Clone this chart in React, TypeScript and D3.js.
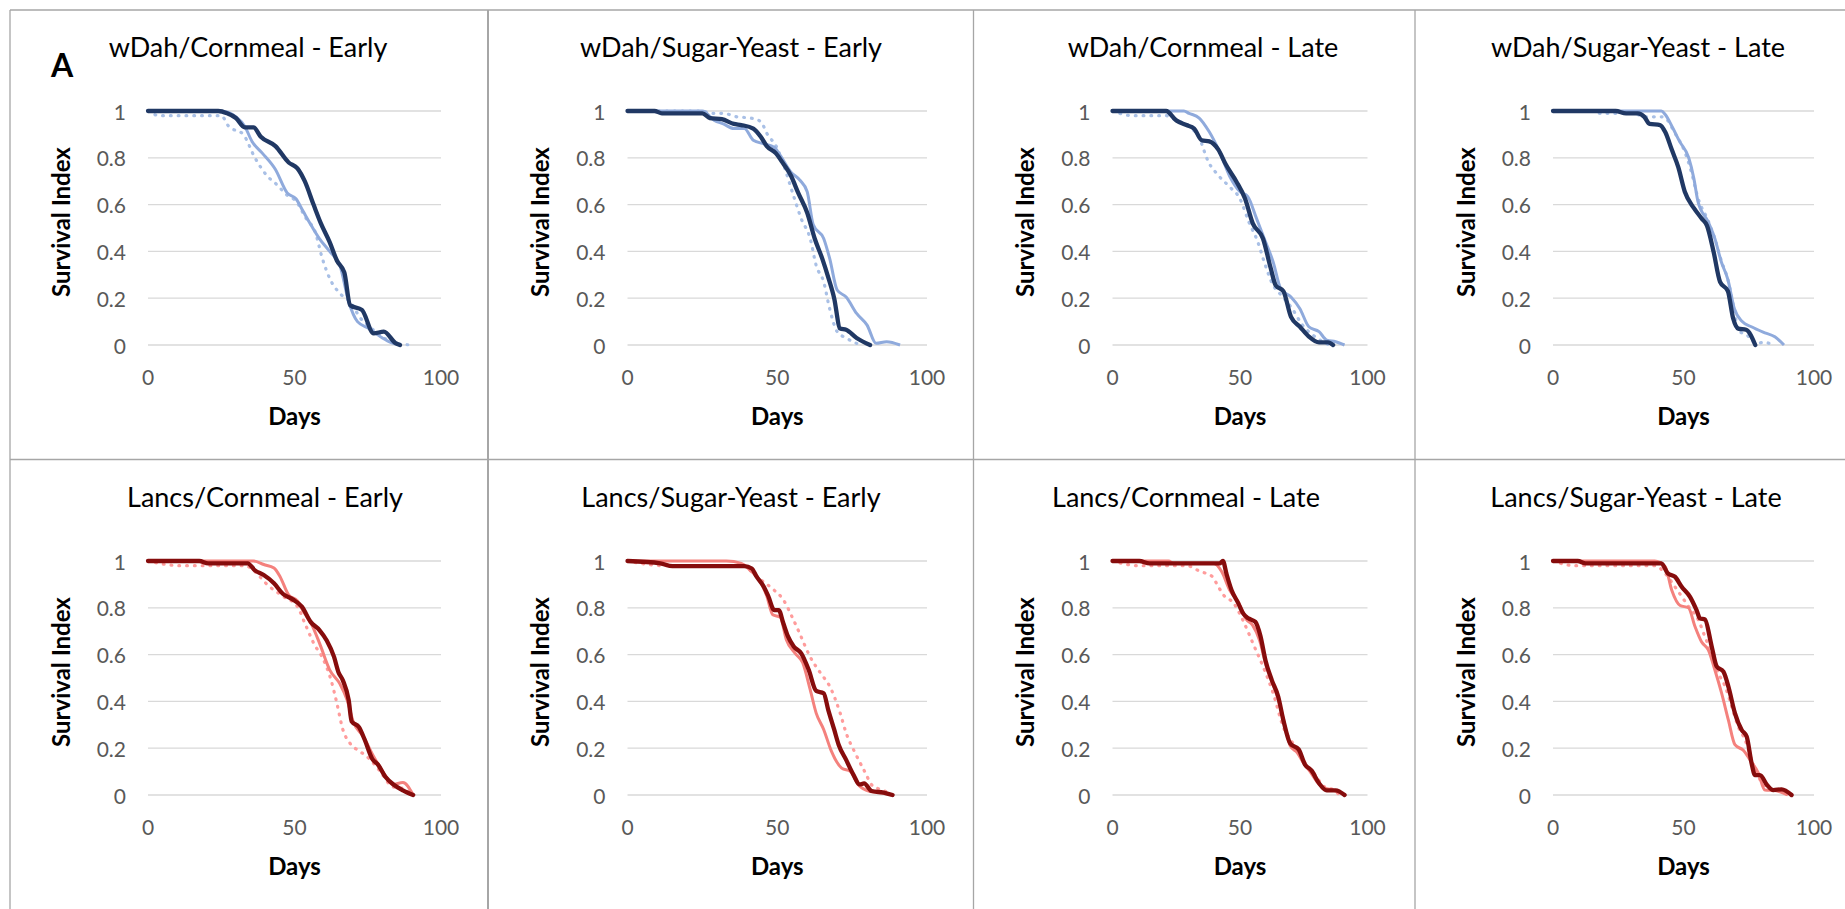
import React from "react";
import * as d3 from "d3";

type Pt = [number, number];

// ---------- tick labels / titles ----------
const xTicks = [0, 50, 100];
const yTicks = [0, 0.2, 0.4, 0.6, 0.8, 1];
const xLabel = "Days";
const yLabel = "Survival Index";
const panelTitles = [
  "wDah/Cornmeal - Early",
  "wDah/Sugar-Yeast - Early",
  "wDah/Cornmeal - Late",
  "wDah/Sugar-Yeast - Late",
  "Lancs/Cornmeal - Early",
  "Lancs/Sugar-Yeast - Early",
  "Lancs/Cornmeal - Late",
  "Lancs/Sugar-Yeast - Late",
];

// ---------- data: [day, survival index] ----------
const wDahCornEarlyDotted: Pt[] = [[0,1],[4,0.98],[25,0.98],[27.5,0.935],[32.5,0.9],[36.5,0.8],[40.5,0.725],[44,0.685],[47.5,0.64],[50.5,0.615],[54,0.54],[57,0.485],[59.5,0.37],[62,0.285],[65.5,0.22],[69,0.185],[72.5,0.115],[75.5,0.08],[80,0.035],[84.5,0.006],[90.5,0]];
const wDahCornEarlyLight: Pt[] = [[0,1],[25,1],[30,0.975],[33,0.935],[35.5,0.87],[39,0.82],[43.5,0.75],[47.5,0.65],[50.5,0.625],[53,0.57],[56,0.505],[58.5,0.455],[62,0.4],[65.5,0.34],[68.5,0.185],[71.5,0.1],[75.5,0.07],[80,0.03],[83,0.01],[86,0]];
const wDahCornEarlyDark: Pt[] = [[0,1],[24,1],[27,0.99],[30,0.97],[33,0.93],[36,0.93],[38.5,0.89],[43.5,0.85],[48,0.78],[51,0.755],[53.5,0.7],[56.5,0.6],[59,0.52],[62,0.44],[64.5,0.36],[67,0.31],[69,0.17],[73,0.15],[77,0.05],[80.5,0.057],[84.5,0.008],[86,0]];

const wDahSYEarlyDotted: Pt[] = [[0,1],[25,1],[28,0.99],[32,0.99],[36.5,0.975],[41,0.97],[44.5,0.955],[46.5,0.905],[50,0.84],[52.5,0.755],[55.5,0.635],[58,0.54],[61,0.455],[63,0.34],[65.5,0.27],[67.5,0.155],[70,0.057],[73,0.03],[76.5,0.007],[78,0]];
const wDahSYEarlyLight: Pt[] = [[0,1],[25,1],[29,0.96],[32,0.945],[35.5,0.925],[39,0.925],[42,0.875],[45.5,0.86],[49,0.845],[51,0.81],[54.5,0.74],[57.5,0.705],[60,0.655],[62,0.515],[65.5,0.455],[67.5,0.37],[70,0.235],[73,0.205],[76.5,0.135],[80,0.085],[83,0.007],[86.5,0.014],[91,0]];
const wDahSYEarlyDark: Pt[] = [[0,1],[9,1],[11.5,0.99],[25,0.99],[27.5,0.97],[31.5,0.965],[35.5,0.945],[38,0.94],[42,0.925],[44.5,0.89],[46.5,0.85],[49.5,0.82],[52,0.775],[54.5,0.725],[57,0.65],[60,0.565],[62.5,0.455],[65,0.37],[67,0.29],[69,0.2],[71,0.07],[73,0.065],[76.5,0.03],[81,0]];

const wDahCornLateDotted: Pt[] = [[0,1],[8,0.98],[21,0.98],[25,0.96],[30,0.935],[34,0.885],[37.5,0.785],[41.5,0.725],[46,0.675],[50,0.625],[53.5,0.525],[57,0.44],[59.5,0.355],[63,0.255],[66,0.215],[70.5,0.155],[74.5,0.085],[78.5,0.043],[82.5,0.014],[85,0]];
const wDahCornLateLight: Pt[] = [[0,1],[28,1],[30,0.99],[34,0.97],[38,0.91],[42,0.825],[46,0.72],[50,0.655],[53,0.635],[56.5,0.54],[59.5,0.455],[63,0.355],[66,0.24],[70,0.205],[73.5,0.155],[77,0.078],[81,0.057],[84,0.021],[87.5,0.014],[91,0]];
const wDahCornLateDark: Pt[] = [[0,1],[21,1],[25,0.96],[29,0.94],[32,0.925],[35,0.875],[38,0.87],[41.5,0.835],[44.5,0.77],[48.5,0.7],[52,0.625],[55,0.52],[59,0.455],[62,0.33],[64,0.255],[67,0.23],[70,0.12],[73.5,0.078],[77,0.036],[81,0.011],[84.5,0.011],[86.5,0]];

const wDahSYLateDotted: Pt[] = [[0,1],[16,1],[18,0.99],[24,0.99],[30,0.99],[36,0.975],[41.5,0.975],[43,0.97],[46.5,0.91],[50.5,0.825],[53,0.74],[55.5,0.63],[59.5,0.53],[62,0.455],[64.5,0.36],[67,0.28],[69.5,0.145],[71,0.06],[74,0.045],[78,0.007],[81,0.012],[84,0]];
const wDahSYLateLight: Pt[] = [[0,1],[41.5,1],[43,0.985],[46,0.925],[48.5,0.87],[52,0.8],[54,0.71],[55.5,0.615],[59.5,0.525],[62,0.455],[64.5,0.355],[67,0.28],[69.5,0.155],[72.5,0.1],[76,0.078],[80.5,0.055],[85,0.035],[88.5,0]];
const wDahSYLateDark: Pt[] = [[0,1],[24,1],[28,0.99],[32.5,0.99],[35,0.975],[37,0.945],[41,0.94],[43,0.91],[45.5,0.835],[48,0.76],[50.5,0.655],[54,0.585],[57,0.54],[59,0.51],[61.5,0.4],[64,0.27],[67,0.23],[69,0.115],[71,0.07],[74,0.065],[77.5,0]];

const lancsCornEarlyDotted: Pt[] = [[0,1],[11,0.98],[33.5,0.98],[35,0.97],[41.5,0.89],[46,0.85],[51,0.805],[53.5,0.735],[56.5,0.65],[60,0.575],[62.5,0.49],[64.5,0.39],[66.5,0.28],[69,0.22],[72.5,0.185],[75.5,0.155],[79,0.105],[83.5,0.035],[87,0.028],[90,0]];
const lancsCornEarlyLight: Pt[] = [[0,1],[36,1],[39.5,0.985],[43,0.97],[45,0.935],[48,0.855],[51,0.83],[53,0.785],[56,0.725],[58.5,0.65],[62,0.535],[65.5,0.475],[68,0.405],[70,0.315],[73.5,0.25],[77,0.165],[80.5,0.093],[83.5,0.045],[87,0.053],[90.5,0]];
const lancsCornEarlyDark: Pt[] = [[0,1],[17.5,1],[20.5,0.99],[34,0.99],[36.5,0.96],[39.5,0.94],[43,0.905],[46,0.86],[49.5,0.835],[52.5,0.805],[55.5,0.74],[58.5,0.705],[61,0.66],[63.5,0.59],[65,0.525],[66.5,0.49],[68.5,0.405],[69.5,0.315],[72,0.29],[74,0.235],[76.5,0.155],[78.5,0.13],[81,0.078],[84,0.043],[87,0.02],[90.5,0]];

const lancsSYEarlyDotted: Pt[] = [[0,1],[7,0.985],[12,0.98],[39,0.98],[40,0.97],[44.5,0.92],[49,0.875],[52,0.835],[55,0.76],[57.5,0.69],[61,0.59],[64.5,0.52],[67.5,0.465],[71,0.35],[73,0.265],[76,0.18],[79,0.105],[82,0.037],[85.5,0.02],[88,0]];
const lancsSYEarlyLight: Pt[] = [[0,1],[33,1],[38,0.99],[41,0.96],[44,0.92],[46.5,0.85],[48.5,0.77],[51,0.76],[53,0.665],[56,0.605],[58.5,0.565],[61,0.45],[63,0.35],[65.5,0.28],[68,0.19],[71.5,0.115],[74.5,0.1],[77,0.045],[81,0.015],[86.5,0.007],[88,0]];
const lancsSYEarlyDark: Pt[] = [[0,1],[11,0.99],[15,0.978],[39,0.978],[41.5,0.968],[43,0.935],[45.5,0.89],[47,0.85],[49,0.79],[50.5,0.79],[52,0.735],[53.5,0.68],[55.5,0.635],[58,0.605],[60.5,0.535],[63,0.445],[65.5,0.435],[67,0.365],[69,0.28],[70.5,0.215],[73,0.15],[75.5,0.085],[77.5,0.045],[79,0.05],[81.5,0.017],[85.5,0.01],[88.5,0]];

const lancsCornLateDotted: Pt[] = [[0,1],[10.5,0.98],[29,0.98],[34.5,0.955],[39,0.935],[41.5,0.89],[43.5,0.855],[47.5,0.82],[51,0.75],[55,0.65],[59,0.55],[63,0.435],[67,0.29],[70.8,0.22],[74.7,0.15],[79,0.093],[83,0.036],[87,0.02],[89,0]];
const lancsCornLateLight: Pt[] = [[0,1],[22,1],[24,0.99],[39.5,0.99],[42.8,0.955],[46,0.875],[49.3,0.825],[52.5,0.75],[55,0.725],[57.7,0.66],[60.3,0.55],[63,0.47],[65.5,0.39],[67.5,0.3],[69.7,0.21],[72.5,0.18],[75,0.135],[77.5,0.1],[80.2,0.057],[83,0.03],[85.5,0.024],[91,0]];
const lancsCornLateDark: Pt[] = [[0,1],[10.5,1],[14.5,0.99],[42,0.99],[43.3,1],[44.7,0.945],[46.7,0.875],[49.3,0.82],[51.3,0.775],[53.3,0.755],[56,0.74],[58,0.68],[60,0.575],[62.5,0.49],[65,0.42],[67,0.32],[69.7,0.22],[73,0.195],[75.5,0.13],[78,0.105],[81,0.05],[84,0.02],[87.5,0.02],[91,0]];

const lancsSYLateDotted: Pt[] = [[0,1],[8.5,0.98],[39,0.98],[43,0.947],[46.7,0.89],[52,0.805],[55.7,0.748],[58.2,0.677],[60.8,0.605],[63.4,0.52],[66,0.463],[68.5,0.377],[71,0.292],[73.6,0.235],[76.1,0.15],[78.7,0.078],[82.5,0.028],[87.6,0.014],[90,0]];
const lancsSYLateLight: Pt[] = [[0,1],[39,1],[43,0.975],[45.5,0.875],[48.7,0.81],[51.9,0.8],[54.4,0.72],[56.9,0.655],[59.5,0.62],[62,0.535],[64.6,0.435],[67.2,0.32],[69.7,0.215],[73,0.19],[75.5,0.15],[78.7,0.093],[81.2,0.021],[85,0.019],[89,0.005],[90,0]];
const lancsSYLateDark: Pt[] = [[0,1],[9.5,1],[12.5,0.99],[41.5,0.99],[44,0.947],[46.7,0.933],[49.3,0.89],[52.5,0.847],[55,0.79],[56.3,0.755],[58.2,0.75],[60.8,0.635],[62.7,0.55],[65.3,0.527],[67.2,0.463],[69.7,0.35],[72.3,0.278],[74.2,0.25],[76.1,0.135],[77.4,0.085],[79.3,0.085],[82,0.043],[84.4,0.021],[87.6,0.024],[91.4,0]];

const panelData: { dotted: Pt[]; light: Pt[]; dark: Pt[] }[] = [
  { dotted: wDahCornEarlyDotted, light: wDahCornEarlyLight, dark: wDahCornEarlyDark },
  { dotted: wDahSYEarlyDotted, light: wDahSYEarlyLight, dark: wDahSYEarlyDark },
  { dotted: wDahCornLateDotted, light: wDahCornLateLight, dark: wDahCornLateDark },
  { dotted: wDahSYLateDotted, light: wDahSYLateLight, dark: wDahSYLateDark },
  { dotted: lancsCornEarlyDotted, light: lancsCornEarlyLight, dark: lancsCornEarlyDark },
  { dotted: lancsSYEarlyDotted, light: lancsSYEarlyLight, dark: lancsSYEarlyDark },
  { dotted: lancsCornLateDotted, light: lancsCornLateLight, dark: lancsCornLateDark },
  { dotted: lancsSYLateDotted, light: lancsSYLateLight, dark: lancsSYLateDark },
];

// ---------- layout & style ----------
const W = 1845;
const H = 909;
const colPlots = [
  [148, 441],
  [627.5, 927],
  [1112.5, 1367.5],
  [1553, 1814],
];
const rowPlots = [
  [111, 345],
  [561, 795],
];
const titleCenters = [248, 731, 1203, 1638, 265, 731, 1186, 1636];
const colBorders = [488, 973.5, 1415];
const rowBorder = 459.5;

const palettes = [
  { dark: "#203864", light: "#8FAADC", dotted: "#A9C0E6" },
  { dark: "#860C0C", light: "#F4817D", dotted: "#FF9C9C" },
];

const FONT = "Lato, 'Open Sans', sans-serif";

function Panel({ idx }: { idx: number }) {
  const col = idx % 4;
  const row = Math.floor(idx / 4);
  const [x0, x1] = colPlots[col];
  const [y0, y1] = rowPlots[row];
  const x = d3.scaleLinear().domain([0, 100]).range([x0, x1]);
  const y = d3.scaleLinear().domain([0, 1]).range([y1, y0]);
  const line = d3
    .line<Pt>()
    .x((d) => x(d[0]))
    .y((d) => y(d[1]))
    .curve(d3.curveMonotoneX);
  const pal = palettes[row];
  const data = panelData[idx];
  const fmt = (v: number) => (v === 0 || v === 1 ? String(v) : d3.format(".1f")(v));
  const cy = (y0 + y1) / 2;
  return (
    <g>
      <text
        x={titleCenters[idx]}
        y={y0 - 54}
        textAnchor="middle"
        fontFamily={FONT}
        fontSize={27}
        fill="#000"
      >
        {panelTitles[idx]}
      </text>
      {yTicks.map((t) => (
        <line key={"g" + t} x1={x0} x2={x1} y1={y(t)} y2={y(t)} stroke="#D9D9D9" strokeWidth={1.3} />
      ))}
      {yTicks.map((t) => (
        <text
          key={"yt" + t}
          x={x0 - 22}
          y={y(t)}
          textAnchor="end"
          dominantBaseline="central"
          fontFamily={FONT}
          fontSize={21}
          fill="#595959"
        >
          {fmt(t)}
        </text>
      ))}
      {xTicks.map((t) => (
        <text
          key={"xt" + t}
          x={x(t)}
          y={y1 + 31}
          textAnchor="middle"
          dominantBaseline="central"
          fontFamily={FONT}
          fontSize={21}
          fill="#595959"
        >
          {t}
        </text>
      ))}
      <text
        x={(x0 + x1) / 2}
        y={y1 + 70}
        textAnchor="middle"
        dominantBaseline="central"
        fontFamily={FONT}
        fontWeight="bold"
        fontSize={24}
        fill="#000"
      >
        {xLabel}
      </text>
      <text
        transform={`translate(${x0 - 88},${cy - 6}) rotate(-90)`}
        textAnchor="middle"
        dominantBaseline="central"
        fontFamily={FONT}
        fontWeight="bold"
        fontSize={24}
        fill="#000"
      >
        {yLabel}
      </text>
      <path
        d={line(data.dotted) || ""}
        fill="none"
        stroke={pal.dotted}
        strokeWidth={3.2}
        strokeDasharray="0.8 7"
        strokeLinecap="round"
      />
      <path d={line(data.light) || ""} fill="none" stroke={pal.light} strokeWidth={3} strokeLinejoin="round" />
      <path d={line(data.dark) || ""} fill="none" stroke={pal.dark} strokeWidth={4.3} strokeLinejoin="round" strokeLinecap="round" />
    </g>
  );
}

export default function App() {
  return (
    <div style={{ position: "absolute", left: 0, top: 0 }}>
      <svg width={W} height={H} style={{ display: "block", background: "#fff" }}>
        <rect x={0} y={0} width={W} height={H} fill="#fff" />
        {/* panel borders */}
        <line x1={10} x2={W} y1={10} y2={10} stroke="#A6A6A6" strokeWidth={1.3} />
        <line x1={10} x2={10} y1={10} y2={H} stroke="#A6A6A6" strokeWidth={1.3} />
        <line x1={10} x2={W} y1={rowBorder} y2={rowBorder} stroke="#A6A6A6" strokeWidth={1.3} />
        {colBorders.map((cx, i) => (
          <line key={i} x1={cx} x2={cx} y1={10} y2={H} stroke="#A6A6A6" strokeWidth={i === 0 ? 2 : 1.3} />
        ))}
        {panelTitles.map((_, i) => (
          <Panel key={i} idx={i} />
        ))}
        <text x={62} y={77} textAnchor="middle" fontFamily={FONT} fontWeight="bold" fontSize={32} fill="#000">
          A
        </text>
      </svg>
    </div>
  );
}
